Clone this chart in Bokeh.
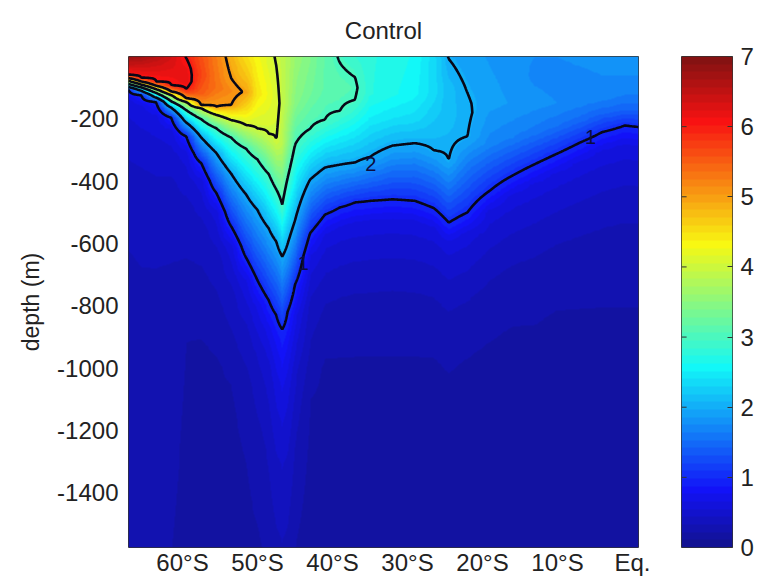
import numpy as np
import contourpy
from bokeh.plotting import figure
from bokeh.models import Range1d, LinearColorMapper, FixedTicker, Label
from bokeh.layouts import row
from bokeh.embed import file_html
from bokeh.resources import INLINE

# ---------------- data ----------------
title_text = "Control"
y_label = "depth (m)"
x_ticks = [-60, -50, -40, -30, -20, -10, 0]
x_tick_labels = ["60°S", "50°S", "40°S", "30°S", "20°S", "10°S", "Eq."]
y_ticks = [-1400, -1200, -1000, -800, -600, -400, -200]
y_tick_labels = ["-1400", "-1200", "-1000", "-800", "-600", "-400", "-200"]
cbar_ticks = [0, 1, 2, 3, 4, 5, 6, 7]
cbar_tick_labels = ["0", "1", "2", "3", "4", "5", "6", "7"]
contour_levels = [1, 2, 3, 4, 5, 6]
lat_min, lat_max = -67.2, 0.8
depth_min = -1575
value_min, value_max = 0, 7

# latitude of each sampled column
column_lats = [-67.2, -65.5, -63.5, -61.5, -59.5, -57.5, -55.5, -53.5, -51.5, -50.0,
               -48.5, -47.5, -46.7, -46.0, -45.0, -43.0, -41.0, -39.0, -37.0, -35.0,
               -32.0, -29.0, -26.5, -24.5, -22.0, -19.0, -16.0, -13.0, -10.0, -7.0,
               -4.0, -1.0, 0.8]

# (depth in m, value) pairs read down each column, top to bottom
column_profiles = [
    [(0, 6.8), (-59, 6), (-69, 5), (-78, 4), (-88, 3), (-98, 2), (-107, 1), (-140, 0.6), (-300, 0.45), (-700, 0.3), (-1575, 0.22)],
    [(0, 6.7), (-68, 6), (-80, 5), (-90, 4), (-99, 3), (-110, 2), (-124, 1), (-160, 0.62), (-320, 0.45), (-700, 0.32), (-1575, 0.28)],
    [(0, 6.55), (-80, 6), (-94, 5), (-105, 4), (-117, 3), (-132, 2), (-146, 1), (-190, 0.62), (-350, 0.45), (-700, 0.32), (-1575, 0.28)],
    [(0, 6.35), (-50, 6.2), (-92, 6), (-112, 5), (-124, 4), (-144, 3), (-164, 2), (-196, 1), (-240, 0.6), (-400, 0.42), (-800, 0.28), (-1575, 0.22)],
    [(0, 5.98), (-40, 6.15), (-80, 6.2), (-104, 6), (-134, 5), (-146, 4), (-172, 3), (-212, 2), (-256, 1), (-310, 0.6), (-480, 0.4), (-900, 0.22), (-1575, 0.18)],
    [(0, 5.6), (-60, 5.7), (-120, 5.5), (-156, 5), (-166, 4), (-201, 3), (-260, 2), (-342, 1), (-400, 0.6), (-560, 0.38), (-950, 0.2), (-1575, 0.16)],
    [(0, 5.25), (-100, 5.35), (-161, 5), (-187, 4), (-230, 3), (-309, 2), (-437, 1), (-500, 0.6), (-650, 0.38), (-1000, 0.2), (-1575, 0.16)],
    [(0, 4.85), (-70, 5), (-110, 5.15), (-155, 5), (-204, 4), (-260, 3), (-376, 2), (-545, 1), (-610, 0.62), (-760, 0.4), (-1050, 0.22), (-1575, 0.16)],
    [(0, 4.5), (-60, 4.7), (-114, 4.95), (-170, 4.5), (-220, 4), (-296, 3), (-443, 2), (-646, 1), (-720, 0.65), (-870, 0.42), (-1100, 0.25), (-1575, 0.18)],
    [(0, 4.3), (-120, 4.45), (-231, 4), (-330, 3), (-492, 2), (-718, 1), (-800, 0.68), (-950, 0.45), (-1200, 0.3), (-1575, 0.2)],
    [(0, 4.1), (-120, 4.25), (-248, 4), (-377, 3), (-551, 2), (-782, 1), (-870, 0.72), (-1000, 0.5), (-1250, 0.35), (-1575, 0.25)],
    [(0, 3.97), (-30, 4), (-150, 4.08), (-273, 4), (-426, 3), (-593, 2), (-829, 1), (-920, 0.78), (-1050, 0.6), (-1300, 0.42), (-1575, 0.3)],
    [(0, 3.9), (-150, 3.93), (-280, 3.85), (-475, 3), (-642, 2), (-875, 1), (-960, 0.82), (-1100, 0.62), (-1300, 0.45), (-1575, 0.32)],
    [(0, 3.8), (-150, 3.75), (-280, 3.5), (-391, 3), (-602, 2), (-819, 1), (-920, 0.78), (-1050, 0.6), (-1300, 0.42), (-1575, 0.3)],
    [(0, 3.6), (-150, 3.45), (-283, 3), (-526, 2), (-731, 1), (-830, 0.7), (-1000, 0.48), (-1250, 0.32), (-1575, 0.22)],
    [(0, 3.4), (-120, 3.3), (-232, 3), (-395, 2), (-567, 1), (-640, 0.65), (-800, 0.4), (-1100, 0.22), (-1575, 0.16)],
    [(0, 3.15), (-100, 3.15), (-202, 3), (-356, 2), (-507, 1), (-580, 0.6), (-760, 0.35), (-1000, 0.2), (-1575, 0.15)],
    [(0, 2.97), (-21, 3), (-100, 3.12), (-174, 3), (-347, 2), (-484, 1), (-555, 0.6), (-735, 0.35), (-1000, 0.2), (-1575, 0.15)],
    [(0, 2.85), (-66, 3), (-100, 3.05), (-139, 3), (-240, 2.5), (-340, 2), (-468, 1), (-540, 0.6), (-720, 0.35), (-1000, 0.2), (-1575, 0.15)],
    [(0, 2.75), (-120, 2.75), (-200, 2.5), (-322, 2), (-463, 1), (-535, 0.6), (-715, 0.35), (-1000, 0.2), (-1575, 0.15)],
    [(0, 2.7), (-120, 2.65), (-200, 2.4), (-286, 2), (-458, 1), (-530, 0.6), (-710, 0.35), (-1000, 0.2), (-1575, 0.15)],
    [(0, 2.6), (-120, 2.55), (-200, 2.35), (-278, 2), (-463, 1), (-535, 0.6), (-715, 0.35), (-1000, 0.2), (-1575, 0.15)],
    [(0, 2.35), (-120, 2.35), (-200, 2.2), (-301, 2), (-486, 1), (-555, 0.6), (-735, 0.35), (-1000, 0.2), (-1575, 0.15)],
    [(0, 1.98), (-8, 2), (-100, 2.12), (-220, 2.1), (-333, 2), (-533, 1), (-600, 0.6), (-780, 0.35), (-1050, 0.2), (-1575, 0.15)],
    [(0, 1.9), (-60, 1.95), (-117, 2), (-180, 2.04), (-256, 2), (-350, 1.6), (-500, 1), (-570, 0.6), (-750, 0.35), (-1000, 0.2), (-1575, 0.15)],
    [(0, 1.85), (-150, 1.9), (-280, 1.7), (-430, 1), (-500, 0.6), (-680, 0.35), (-950, 0.2), (-1575, 0.15)],
    [(0, 1.8), (-150, 1.85), (-260, 1.65), (-382, 1), (-450, 0.6), (-630, 0.35), (-900, 0.2), (-1575, 0.15)],
    [(0, 1.75), (-60, 1.72), (-150, 1.8), (-240, 1.6), (-345, 1), (-415, 0.6), (-600, 0.35), (-900, 0.2), (-1575, 0.15)],
    [(0, 1.75), (-60, 1.7), (-150, 1.75), (-220, 1.55), (-311, 1), (-380, 0.6), (-560, 0.35), (-850, 0.2), (-1575, 0.15)],
    [(0, 1.78), (-60, 1.72), (-140, 1.72), (-200, 1.5), (-276, 1), (-345, 0.6), (-530, 0.35), (-850, 0.2), (-1575, 0.15)],
    [(0, 1.8), (-60, 1.75), (-130, 1.7), (-180, 1.45), (-242, 1), (-310, 0.6), (-500, 0.35), (-850, 0.2), (-1575, 0.15)],
    [(0, 1.8), (-60, 1.75), (-120, 1.65), (-170, 1.45), (-221, 1), (-290, 0.6), (-480, 0.35), (-850, 0.2), (-1575, 0.15)],
    [(0, 1.8), (-60, 1.75), (-120, 1.65), (-170, 1.45), (-226, 1), (-295, 0.6), (-480, 0.35), (-850, 0.2), (-1575, 0.15)],
]

# contour labels (text, latitude, depth)
label_texts = ["2", "1", "1"]
label_lats = [-34.9, -5.6, -43.9]
label_depths = [-345, -258, -664]

# ---------------- styling ----------------
FONT = "Liberation Sans"
TXT = "#222222"


def jet(m=64):
    n = int(np.ceil(m / 4))
    u = np.concatenate([np.arange(1, n + 1) / n, np.ones(n - 1), np.arange(n, 0, -1) / n])
    g = int(np.ceil(n / 2)) - (1 if m % 4 == 1 else 0) + np.arange(1, len(u) + 1)
    r = g + n
    b = g - n
    J = np.zeros((m, 3))
    J[r[r <= m] - 1, 0] = u[r <= m]
    J[g[g <= m] - 1, 1] = u[g <= m]
    J[b[b >= 1] - 1, 2] = u[b >= 1]
    # slight wash, like the video frame of the reference
    J = 18 / 255 + 0.9 * J
    return ["#%02x%02x%02x" % tuple(int(round(min(c, 1) * 255)) for c in rgb) for rgb in J]


palette = jet(64)
mapper = LinearColorMapper(palette=palette, low=value_min, high=value_max)

# ---------------- field on a display grid ----------------
lat_f = np.linspace(lat_min, lat_max, 545)
dep_f = np.linspace(depth_min, 0, 631)
cols = []
for prof in column_profiles:
    d = [pt[0] for pt in prof][::-1]
    v = [pt[1] for pt in prof][::-1]
    cols.append(np.interp(dep_f, d, v))
cols = np.array(cols)
Z = np.array([np.interp(lat_f, column_lats, cols[:, j]) for j in range(len(dep_f))])

# ---------------- main figure ----------------
p = figure(width=680, height=584, x_range=Range1d(lat_min, lat_max), y_range=Range1d(depth_min, 0),
           output_backend="svg", toolbar_location=None,
           min_border_left=128, min_border_right=42, min_border_top=55, min_border_bottom=37)
p.title.text = title_text
p.title.align = "center"
p.title.text_font = FONT
p.title.text_font_size = "24px"
p.title.text_font_style = "normal"
p.title.text_color = TXT
p.title.standoff = 26
p.grid.visible = False
p.background_fill_color = "white"
p.border_fill_color = "white"
p.outline_line_color = "#333333"
p.outline_line_width = 1

p.image(image=[Z], x=lat_min, y=depth_min, dw=lat_max - lat_min, dh=-depth_min, color_mapper=mapper)

gen = contourpy.contour_generator(lat_f, dep_f, Z)
xs, ys = [], []
for lev in contour_levels:
    for line in gen.lines(lev):
        xs.append(line[:, 0].tolist())
        ys.append(line[:, 1].tolist())
p.multi_line(xs, ys, line_color="#080818", line_width=2.6)

for t, la, de in zip(label_texts, label_lats, label_depths):
    p.add_layout(Label(x=la, y=de, text=t, text_font=FONT, text_font_size="20px", text_color="#0c0c40",
                       text_align="center", text_baseline="middle"))

p.xaxis.ticker = FixedTicker(ticks=x_ticks)
p.xaxis.major_label_overrides = {t: l for t, l in zip(x_ticks, x_tick_labels)}
p.yaxis.ticker = FixedTicker(ticks=y_ticks)
p.yaxis.major_label_overrides = {t: l for t, l in zip(y_ticks, y_tick_labels)}
p.yaxis.axis_label = y_label
for ax in (p.xaxis, p.yaxis):
    ax.major_tick_in = 0
    ax.major_tick_out = 0
    ax.minor_tick_line_color = None
    ax.axis_line_color = None
    ax.major_label_text_font = FONT
    ax.major_label_text_font_size = "24px"
    ax.major_label_text_color = TXT
    ax.axis_label_text_font = FONT
    ax.axis_label_text_font_size = "23px"
    ax.axis_label_text_font_style = "normal"
    ax.axis_label_text_color = TXT
p.xaxis.major_label_standoff = 1
p.yaxis.major_label_standoff = 10
p.yaxis.axis_label_standoff = 10

# ---------------- colour bar figure ----------------
cb = figure(width=80, height=584, x_range=Range1d(0, 1), y_range=Range1d(value_min, value_max),
            output_backend="svg", toolbar_location=None, y_axis_location="right",
            min_border_left=1, min_border_right=28, min_border_top=56, min_border_bottom=35)
cb.grid.visible = False
cb.xaxis.visible = False
cb.outline_line_color = "#333333"
bar_vals = ((np.arange(len(palette)) + 0.5) / len(palette) * (value_max - value_min) + value_min).reshape(-1, 1)
cb.image(image=[bar_vals], x=0, y=value_min, dw=1, dh=value_max - value_min, color_mapper=mapper)
# small inner ticks on the left edge of the bar
cb.segment(x0=[0] * len(cbar_ticks), x1=[0.1] * len(cbar_ticks), y0=cbar_ticks, y1=cbar_ticks,
           line_color="#333333", line_width=1)
cb.yaxis.ticker = FixedTicker(ticks=cbar_ticks)
cb.yaxis.major_label_overrides = {t: l for t, l in zip(cbar_ticks, cbar_tick_labels)}
cb.yaxis.major_tick_in = 5
cb.yaxis.major_tick_out = 0
cb.yaxis.major_tick_line_color = "#333333"
cb.yaxis.minor_tick_line_color = None
cb.yaxis.axis_line_color = None
cb.yaxis.major_label_text_font = FONT
cb.yaxis.major_label_text_font_size = "24px"
cb.yaxis.major_label_text_color = TXT
cb.yaxis.major_label_standoff = 8

layout = row(p, cb)
open("out.html", "w").write(file_html(layout, INLINE))
